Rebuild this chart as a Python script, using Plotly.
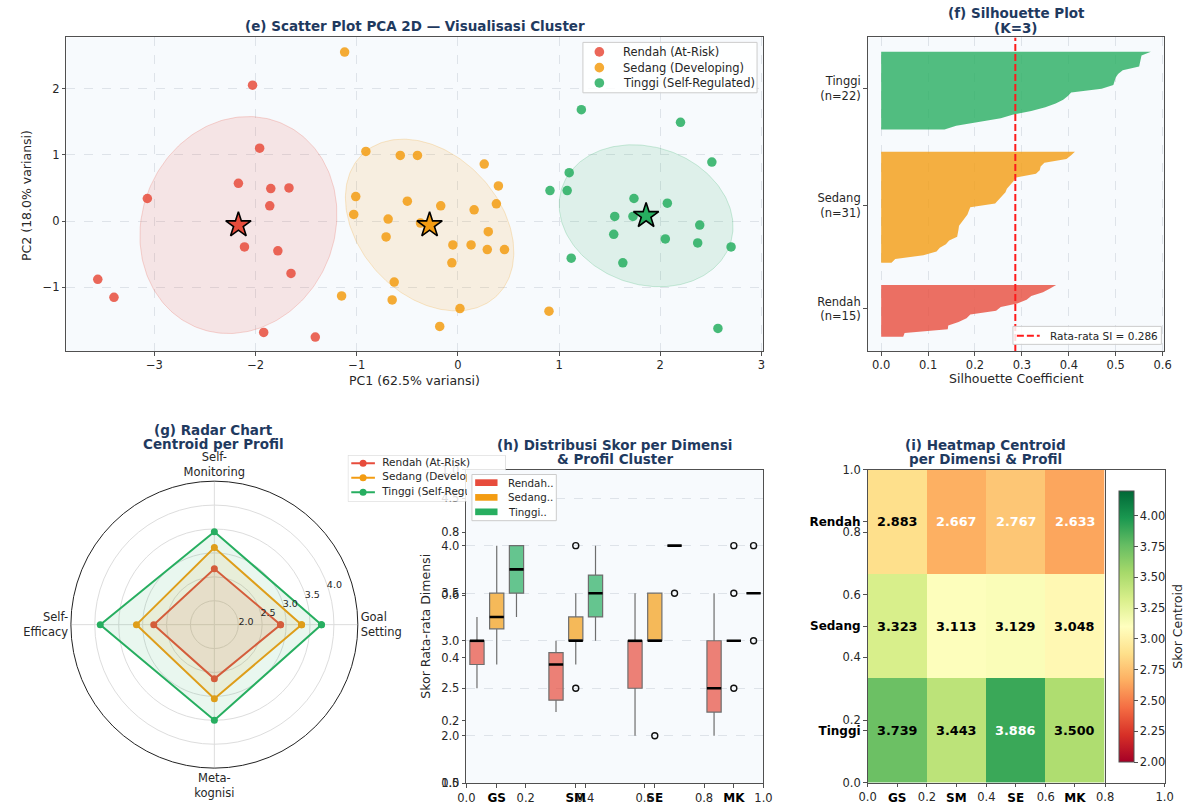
import numpy as np
import plotly.graph_objects as go

W, H = 1194, 811
FONT = "DejaVu Sans"
NAVY = "#1F3A5F"
INK = "#262626"
SPINE = "#505050"
PANEL_BG = "#F7FAFD"
GRID = "#DEE3E9"

PROFILES = ["Rendah", "Sedang", "Tinggi"]
PROFILE_NAMES = ["Rendah (At-Risk)", "Sedang (Developing)", "Tinggi (Self-Regulated)"]
COLORS = ["#E74C3C", "#F39C12", "#27AE60"]

# ---- (e) PCA 2D projection -------------------------------------------------
pc1_rendah = [-2.03, -1.96, -2.17, -1.85, -1.67, -1.86, -3.07, -2.11, -1.78, -1.65, -3.56, -3.40, -1.92, -1.41]
pc2_rendah = [2.05, 1.10, 0.57, 0.49, 0.50, 0.23, 0.34, -0.39, -0.45, -0.79, -0.88, -1.15, -1.68, -1.75]
pc1_sedang = [-1.12, -0.91, -0.57, -0.40, 0.26, 0.40, -0.50, -0.17, 0.16, 0.38, -0.37, 0.30, -0.05, 0.13,
              0.29, 0.46, -0.06, 0.02, -0.18, 0.90, -1.01, -1.03, -0.69, -0.71, -0.63, -0.65, -1.15]
pc2_sedang = [2.55, 1.05, 0.99, 0.99, 0.86, 0.53, 0.30, 0.23, 0.17, 0.26, -0.03, -0.16, -0.36, -0.36,
              -0.43, -0.43, -0.63, -1.32, -1.59, -1.36, 0.37, 0.10, 0.03, -0.24, -0.92, -1.19, -1.13]
pc1_tinggi = [1.22, 2.20, 2.51, 1.10, 0.91, 1.08, 1.74, 2.07, 1.55, 1.73, 2.39, 1.54, 2.05, 2.37, 2.70, 1.12, 1.63, 2.57]
pc2_tinggi = [1.68, 1.49, 0.89, 0.73, 0.46, 0.46, 0.34, 0.27, 0.07, 0.07, -0.06, -0.20, -0.27, -0.33, -0.39, -0.56, -0.63, -1.62]
centroid_pc1 = [-2.17, -0.28, 1.86]
centroid_pc2 = [-0.06, -0.06, 0.08]
ellipse_cov = [
    [[0.948, 0.159], [0.159, 2.680]],
    [[0.693, -0.341], [-0.341, 1.679]],
    [[0.738, -0.141], [-0.141, 1.147]],
]
pca_var = [62.5, 18.0]

# ---- (f) silhouette coefficients (sorted per cluster) ----------------------
sil_rendah = [0.047, 0.050, 0.142, 0.143, 0.165, 0.182, 0.190, 0.245, 0.255, 0.290, 0.310, 0.320, 0.345, 0.360, 0.373]
sil_sedang = [0.022, 0.030, 0.090, 0.118, 0.125, 0.138, 0.145, 0.162, 0.164, 0.165, 0.166, 0.172, 0.180, 0.184,
              0.187, 0.190, 0.243, 0.250, 0.258, 0.265, 0.268, 0.276, 0.282, 0.287, 0.330, 0.338, 0.340, 0.348,
              0.395, 0.405, 0.413]
sil_tinggi = [0.135, 0.160, 0.205, 0.255, 0.280, 0.320, 0.350, 0.372, 0.388, 0.398, 0.405, 0.470, 0.495, 0.498,
              0.500, 0.505, 0.515, 0.550, 0.552, 0.553, 0.555, 0.575]
SI_MEAN = 0.286

# ---- centroid per dimension (radar + heatmap) -----------------------------
DIMS = ["GS", "SM", "SE", "MK"]
DIM_NAMES = ["Goal<br>Setting", "Self-<br>Monitoring", "Self-<br>Efficacy", "Meta-<br>kognisi"]
centroid_rendah = [2.883, 2.667, 2.767, 2.633]
centroid_sedang = [3.323, 3.113, 3.129, 3.048]
centroid_tinggi = [3.739, 3.443, 3.886, 3.500]

# ---- (h) box statistics per dimension --------------------------------------
box_q1 = {"Rendah": [2.75, 2.375, 2.5, 2.25], "Sedang": [3.125, 3.0, 3.0, 3.0], "Tinggi": [3.5, 3.25, 4.0, 3.5]}
box_med = {"Rendah": [3.0, 2.75, 3.0, 2.5], "Sedang": [3.25, 3.0, 3.0, 3.0], "Tinggi": [3.75, 3.5, 4.0, 3.5]}
box_q3 = {"Rendah": [3.0, 2.875, 3.0, 3.0], "Sedang": [3.5, 3.25, 3.5, 3.0], "Tinggi": [4.0, 3.69, 4.0, 3.5]}
box_lo = {"Rendah": [2.5, 2.25, 2.0, 2.0], "Sedang": [2.75, 2.75, 3.0, 3.0], "Tinggi": [3.25, 3.0, 4.0, 3.5]}
box_hi = {"Rendah": [3.25, 3.0, 3.5, 3.5], "Sedang": [4.0, 3.5, 3.5, 3.0], "Tinggi": [4.0, 4.0, 4.0, 3.5]}
box_out = {
    "Rendah": [[], [], [], []],
    "Sedang": [[], [4.0, 2.5], [2.0], [4.0, 3.5, 2.5]],
    "Tinggi": [[], [], [3.5], [4.0, 3.0]],
}


def rgba(hx, a):
    hx = hx.lstrip("#")
    r, g, b = int(hx[0:2], 16), int(hx[2:4], 16), int(hx[4:6], 16)
    return f"rgba({r},{g},{b},{a})"


def fx(x):
    return x / W


def fy(y):
    return 1 - y / H


def dom_x(a, b):
    return [fx(a), fx(b)]


def dom_y(top, bottom):
    return [fy(bottom), fy(top)]


def ellipse_path(cx, cy, cov, n=240):
    vals, vecs = np.linalg.eigh(np.array(cov))
    t = np.linspace(0, 2 * np.pi, n)
    circ = np.vstack([np.cos(t), np.sin(t)])
    pts = vecs @ (np.sqrt(vals)[:, None] * circ)
    return cx + pts[0], cy + pts[1]


fig = go.Figure()
annotations = []
shapes = []

# ================= (e) scatter PCA =================
pcs = [(pc1_rendah, pc2_rendah), (pc1_sedang, pc2_sedang), (pc1_tinggi, pc2_tinggi)]
for k in range(3):
    ex, ey = ellipse_path(centroid_pc1[k], centroid_pc2[k], ellipse_cov[k])
    fig.add_trace(go.Scatter(x=ex, y=ey, mode="lines", fill="toself",
                             fillcolor=rgba(COLORS[k], 0.12), line=dict(color=rgba(COLORS[k], 0.22), width=1),
                             showlegend=False, hoverinfo="skip", xaxis="x", yaxis="y"))
for k in range(3):
    fig.add_trace(go.Scatter(x=pcs[k][0], y=pcs[k][1], mode="markers", name=PROFILE_NAMES[k],
                             marker=dict(color=COLORS[k], size=9.5, opacity=0.85, line=dict(width=0)),
                             showlegend=False, xaxis="x", yaxis="y"))
for k in range(3):
    fig.add_trace(go.Scatter(x=[centroid_pc1[k]], y=[centroid_pc2[k]], mode="markers", showlegend=False,
                             marker=dict(symbol="star", color=COLORS[k], size=19, line=dict(color="black", width=1.6)),
                             xaxis="x", yaxis="y"))

# ================= (f) silhouette =================
sil_sets = [sil_rendah, sil_sedang, sil_tinggi]
sil_ticks = []
y_lower = 0
for k in range(3):
    vals = sorted(sil_sets[k])
    n = len(vals)
    ys = np.arange(y_lower, y_lower + n)
    fig.add_trace(go.Scatter(x=[0] + vals + [0], y=[ys[0]] + list(ys) + [ys[-1]], mode="lines",
                             fill="toself", fillcolor=rgba(COLORS[k], 0.8), line=dict(width=0, color=rgba(COLORS[k], 0.8)),
                             showlegend=False, hoverinfo="skip", xaxis="x2", yaxis="y2"))
    sil_ticks.append(y_lower + n / 2)
    y_lower += n + 5
sil_top = y_lower - 5 - 1
sil_pad = 0.05 * sil_top
sil_range = [-sil_pad, sil_top + sil_pad]
MEAN_DASH = "7px,3px"
fig.add_trace(go.Scatter(x=[SI_MEAN, SI_MEAN], y=sil_range, mode="lines",
                         line=dict(color="#FF1A1A", width=2, dash=MEAN_DASH),
                         showlegend=False, xaxis="x2", yaxis="y2"))
sil_ticktext = [f"{PROFILES[k]}<br>(n={len(sil_sets[k])})" for k in range(3)]

# ================= (g) radar =================
cent = [centroid_rendah, centroid_sedang, centroid_tinggi]
theta = [0, 90, 180, 270, 360]
for k in range(3):
    fig.add_trace(go.Scatterpolar(r=cent[k] + [cent[k][0]], theta=theta, mode="lines+markers",
                                  fill="toself", fillcolor=rgba(COLORS[k], 0.1),
                                  line=dict(color=COLORS[k], width=2), marker=dict(size=7, color=COLORS[k]),
                                  showlegend=False, subplot="polar"))

# radar legend, drawn in a small helper frame (px units) so the box panel can sit over it
leg_y = [8.3, 23.0, 37.7]
for k in range(3):
    fig.add_trace(go.Scatter(x=[3.5, 27.5], y=[leg_y[k]] * 2, mode="lines", line=dict(color=COLORS[k], width=2),
                             showlegend=False, hoverinfo="skip", xaxis="x7", yaxis="y7"))
    fig.add_trace(go.Scatter(x=[15.5], y=[leg_y[k]], mode="markers", marker=dict(color=COLORS[k], size=7),
                             showlegend=False, hoverinfo="skip", xaxis="x7", yaxis="y7"))
    fig.add_trace(go.Scatter(x=[35.0], y=[leg_y[k]], mode="text", text=[PROFILE_NAMES[k]],
                             textposition="middle right", textfont=dict(family=FONT, size=10.5, color=INK),
                             cliponaxis=False, showlegend=False, hoverinfo="skip", xaxis="x7", yaxis="y7"))

# ================= (h) box plots =================
offsets = [-0.25, 0.0, 0.25]
BOX_W = 0.18
med_x, med_y = [], []
for k, p in enumerate(PROFILES):
    xs = [i + 1 + offsets[k] for i in range(4)]
    fig.add_trace(go.Box(x=xs, q1=box_q1[p], median=box_med[p], q3=box_q3[p],
                         lowerfence=box_lo[p], upperfence=box_hi[p], width=BOX_W, whiskerwidth=0,
                         fillcolor=rgba(COLORS[k], 0.7), line=dict(color="#6E6E6E", width=1.2),
                         name=p + "..", showlegend=False, xaxis="x3", yaxis="y3", hoverinfo="skip"))
    for i in range(4):
        med_x += [xs[i] - BOX_W / 2, xs[i] + BOX_W / 2, None]
        med_y += [box_med[p][i], box_med[p][i], None]
    ox, oy = [], []
    for i in range(4):
        for v in box_out[p][i]:
            ox.append(xs[i])
            oy.append(v)
    if ox:
        fig.add_trace(go.Scatter(x=ox, y=oy, mode="markers", showlegend=False, hoverinfo="skip",
                                 marker=dict(symbol="circle-open", size=6, color="#111111", line=dict(width=1.4)),
                                 xaxis="x3", yaxis="y3"))
fig.add_trace(go.Scatter(x=med_x, y=med_y, mode="lines", line=dict(color="black", width=2.6),
                         showlegend=False, hoverinfo="skip", xaxis="x3", yaxis="y3"))

# ================= (i) heatmap =================
zmat = [centroid_rendah, centroid_sedang, centroid_tinggi]
fig.add_trace(go.Heatmap(z=zmat, x=[0, 1, 2, 3], y=[0, 1, 2], colorscale="RdYlGn", zmin=2.0, zmax=4.2,
                         xaxis="x5", yaxis="y5", hoverinfo="skip",
                         colorbar=dict(x=fx(1127.3), xanchor="left", y=fy(630.5), yanchor="middle",
                                       len=271, lenmode="pixels", thickness=15.4, thicknessmode="pixels",
                                       xpad=0, ypad=0, outlinecolor=SPINE, outlinewidth=1,
                                       tickvals=[2.0, 2.25, 2.5, 2.75, 3.0, 3.25, 3.5, 3.75, 4.0],
                                       tickformat=".2f", ticks="outside", ticklen=3.5, tickcolor=SPINE,
                                       tickfont=dict(family=FONT, size=11.5, color=INK))))

# helper traces so the overlay frames exist
for xa, ya in [("x4", "y4"), ("x6", "y6")]:
    fig.add_trace(go.Scatter(x=[], y=[], mode="markers", showlegend=False, xaxis=xa, yaxis=ya))

for r in range(3):
    for c in range(4):
        v = zmat[r][c]
        col = "white" if (v < 2.8 or v > 3.8) else "black"
        annotations.append(dict(x=c, y=r, xref="x5", yref="y5", text=f"<b>{v:.3f}</b>", showarrow=False,
                                font=dict(family=FONT, size=12.8, color=col)))


def title(text, x, y, size=13.5):
    annotations.append(dict(x=fx(x), y=fy(y), xref="paper", yref="paper", text=f"<b>{text}</b>",
                            showarrow=False, xanchor="center", yanchor="middle",
                            font=dict(family=FONT, size=size, color=NAVY)))


def label(text, x, y, angle=0, size=12.5, anchor="center"):
    annotations.append(dict(x=fx(x), y=fy(y), xref="paper", yref="paper", text=text, textangle=angle,
                            showarrow=False, xanchor=anchor, yanchor="middle",
                            font=dict(family=FONT, size=size, color=INK)))


def box_px(x0, x1, top, bottom, **kw):
    d = dict(type="rect", xref="paper", yref="paper", x0=fx(x0), x1=fx(x1), y0=fy(bottom), y1=fy(top))
    d.update(kw)
    shapes.append(d)


title("(e) Scatter Plot PCA 2D — Visualisasi Cluster", 412, 19.5)
title("(f) Silhouette Plot", 1022.7, 6.5)
title("(K=3)", 1022.7, 21)
title("(g) Radar Chart", 208, 430)
title("Centroid per Profil", 208, 444.5)
title("(h) Distribusi Skor per Dimensi", 615, 445.5)
title("& Profil Cluster", 615, 460)
title("(i) Heatmap Centroid", 991.7, 445.5)
title("per Dimensi & Profil", 991.7, 460)

label(f"PC1 ({pca_var[0]}% variansi)", 412, 380)
label(f"PC2 ({pca_var[1]}% variansi)", 17, 191.5, angle=-90)
label("Silhouette Coefficient", 1022.7, 378)
label("Skor Rata-rata Dimensi", 423.5, 630.5, angle=-90)
label("Skor Centroid", 1187, 630.5, angle=-90)

tickfont = dict(family=FONT, size=11.5, color=INK)
boldfont = dict(family=FONT, size=12, color="black")


def frame(**kw):
    base = dict(showline=True, mirror=True, linecolor=SPINE, linewidth=1.1, ticks="outside", ticklen=3.5,
                tickcolor=SPINE, tickwidth=1, tickfont=tickfont, zeroline=False, showgrid=False)
    base.update(kw)
    return base


grid = dict(showgrid=True, gridcolor=GRID, gridwidth=0.8, griddash="dash")

for xr, yr in [("x", "y"), ("x2", "y2"), ("x3", "y3")]:
    shapes.append(dict(type="rect", xref=f"{xr} domain", yref=f"{yr} domain", x0=0, x1=1, y0=0, y1=1,
                       fillcolor=PANEL_BG, line=dict(width=0), layer="below"))
# radar legend frame
shapes.append(dict(type="rect", xref="x7", yref="y7", x0=0, x1=160.3, y0=0, y1=47.3,
                   fillcolor="rgba(255,255,255,0.85)", line=dict(color="#CCCCCC", width=1), layer="below"))
# the box-plot panel sits on top of the radar legend
box_px(465.0, 504.9, 471.4, 505, fillcolor=PANEL_BG, line=dict(width=0), layer="above")

LEG_BG = "rgba(255,255,255,0.85)"
LEG_EDGE = "#CCCCCC"

# legend of (e)
box_px(582.7, 759.5, 36, 87.3, fillcolor=LEG_BG, line=dict(color=LEG_EDGE, width=1), layer="above")
for k, yy in enumerate([45.7, 61.7, 77.3]):
    box_px(594.5, 604.3, yy - 4.9, yy + 4.9, type="circle", fillcolor=COLORS[k], opacity=0.85,
           line=dict(width=0), layer="above")
    label(PROFILE_NAMES[k], 621, yy, size=11.5, anchor="left")

# legend of (f)
box_px(1019.3, 1170, 325, 343.3, fillcolor=LEG_BG, line=dict(color=LEG_EDGE, width=1), layer="above")
shapes.append(dict(type="line", xref="paper", yref="paper", x0=fx(1023.3), x1=fx(1046.5), y0=fy(334.5), y1=fy(334.5),
                   line=dict(color="#FF1A1A", width=2, dash=MEAN_DASH), layer="above"))
label(f"Rata-rata SI = {SI_MEAN:.3f}", 1055, 334.5, size=10.5, anchor="left")

# legend of (h)
box_px(470, 555.7, 475.7, 522.7, fillcolor=LEG_BG, line=dict(color=LEG_EDGE, width=1), layer="above")
for k, yy in enumerate([484.0, 499.0, 513.7]):
    box_px(473.3, 496.0, yy - 3.4, yy + 3.4, fillcolor=COLORS[k], line=dict(width=0), layer="above")
    label(PROFILES[k] + "..", 505, yy, size=10.3, anchor="left")

unit_ticks = [0.0, 0.2, 0.4, 0.6, 0.8, 1.0]

fig.update_layout(
    width=W, height=H, autosize=False, margin=dict(l=0, r=0, t=0, b=0, pad=0),
    paper_bgcolor="white", plot_bgcolor="rgba(0,0,0,0)",
    font=dict(family=FONT, color=INK),
    showlegend=False,
    # (e)
    xaxis=frame(domain=dom_x(58.3, 766), range=[-3.87, 3.02], dtick=1, anchor="y", **grid),
    yaxis=frame(domain=dom_y(31, 350), range=[-1.96, 2.77], dtick=1, anchor="x", **grid),
    # (f)
    xaxis2=frame(domain=dom_x(871.7, 1172.7), range=[-0.029, 0.603], dtick=0.1, tickformat=".1f", anchor="y2", **grid),
    yaxis2=frame(domain=dom_y(31, 350), range=sil_range, tickvals=sil_ticks, ticktext=sil_ticktext, anchor="x2"),
    # (h)
    xaxis3=frame(domain=dom_x(464.3, 766), range=[0.615, 4.375], tickvals=[1, 2, 3, 4],
                 ticktext=[f"<b>{d}</b>" for d in DIMS], tickfont=boldfont, anchor="y3"),
    yaxis3=frame(domain=dom_y(470.7, 790), range=[1.5, 4.8], tickvals=[1.5, 2.0, 2.5, 3.0, 3.5, 4.0, 4.5],
                 tickformat=".1f", anchor="x3", **grid),
    xaxis4=frame(domain=dom_x(464.3, 766), range=[0, 1], tickvals=unit_ticks, tickformat=".1f", anchor="y4"),
    yaxis4=frame(domain=dom_y(470.7, 790), range=[0, 1], tickvals=unit_ticks, tickformat=".1f", anchor="x4"),
    # (i)
    xaxis5=frame(domain=dom_x(871.7, 1112.3), range=[-0.5, 3.5], tickvals=[0, 1, 2, 3],
                 ticktext=[f"<b>{d}</b>" for d in DIMS], tickfont=boldfont, anchor="y5"),
    yaxis5=frame(domain=dom_y(470.7, 789.3), range=[2.5, -0.5], tickvals=[0, 1, 2],
                 ticktext=[f"<b>{p}</b>" for p in PROFILES], tickfont=boldfont, anchor="x5"),
    xaxis6=frame(domain=dom_x(871.7, 1173.3), range=[0, 1], tickvals=unit_ticks, tickformat=".1f", anchor="y6"),
    yaxis6=frame(domain=dom_y(470.7, 789.3), range=[0, 1], tickvals=unit_ticks, tickformat=".1f", anchor="x6"),
    # radar legend helper frame
    xaxis7=dict(domain=dom_x(344, 504.3), range=[0, 160.3], visible=False, anchor="y7", fixedrange=True),
    yaxis7=dict(domain=dom_y(456, 503.3), range=[47.3, 0], visible=False, anchor="x7", fixedrange=True),
    polar=dict(
        domain=dict(x=dom_x(62.5, 354.5), y=dom_y(482.5, 774.5)),
        bgcolor="white",
        angularaxis=dict(tickmode="array", tickvals=[0, 90, 180, 270], ticktext=DIM_NAMES, rotation=0,
                         direction="counterclockwise", gridcolor="#DDDDDD", showline=True, linecolor="#222222",
                         linewidth=1, ticks="", tickfont=dict(family=FONT, size=11.5, color=INK)),
        radialaxis=dict(range=[1.5, 4.5], tickvals=[2.0, 2.5, 3.0, 3.5, 4.0], tickformat=".1f", angle=22.5,
                        tickangle=22.5, showline=False, ticks="", gridcolor="#DDDDDD",
                        tickfont=dict(family=FONT, size=9.5, color=INK)),
    ),
    annotations=annotations,
    shapes=shapes,
)

fig.write_html("out.html")
